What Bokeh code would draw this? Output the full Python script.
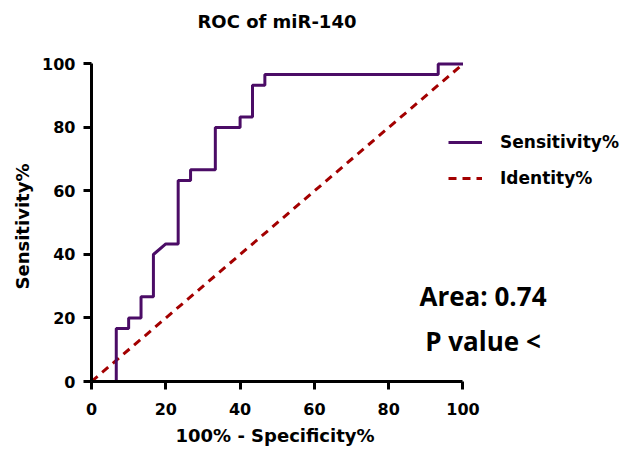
from bokeh.plotting import figure
from bokeh.models import Range1d, FixedTicker, Legend, LegendItem, Label, Title
from bokeh.embed import file_html
from bokeh.resources import INLINE

# ROC curve points (100% - Specificity%, Sensitivity%)
fpr = [0, 6.667, 6.667, 10.0, 10.0, 13.333, 13.333, 16.667, 16.667, 20.0,
       23.333, 23.333, 26.667, 26.667, 33.333, 33.333, 40.0, 40.0, 43.333,
       43.333, 46.667, 46.667, 93.333, 93.333, 100.0]
tpr = [0, 0, 16.667, 16.667, 20.0, 20.0, 26.667, 26.667, 40.0, 43.333,
       43.333, 63.333, 63.333, 66.667, 66.667, 80.0, 80.0, 83.333, 83.333,
       93.333, 93.333, 96.667, 96.667, 100.0, 100.0]
identity_x = [0, 100]
identity_y = [0, 100]
ticks = [0, 20, 40, 60, 80, 100]
axis_bounds = (0, 100)
title_text = "ROC of miR-140"
x_label = "100% - Specificity%"
y_label = "Sensitivity%"
series_names = ["Sensitivity%", "Identity%"]
area_text = "Area: 0.74"
p_text = "P value <"

PURPLE = "#4B0C66"
RED = "#A30000"
FONT = "DejaVu Sans"

# frame is wider/taller than the 0-100 axes so that the legend and the
# area text (which sit beside the axes) are not clipped by the frame
p = figure(width=626, height=453, x_range=Range1d(0, 142.4), y_range=Range1d(0, 107.4),
           output_backend="svg", toolbar_location=None,
           min_border_left=91, min_border_right=6, min_border_top=40, min_border_bottom=72,
           title=title_text)
p.outline_line_color = None
p.grid.visible = False
p.background_fill_color = "white"
p.border_fill_color = "white"

p.title.align = "left"
p.title.offset = 106
p.title.text_font = FONT
p.title.text_font_size = "18px"
p.title.text_font_style = "bold"
p.title.text_color = "black"
p.title.standoff = 17

for ax in (p.xaxis[0], p.yaxis[0]):
    ax.ticker = FixedTicker(ticks=ticks)
    ax.bounds = axis_bounds
    ax.axis_line_width = 3
    ax.axis_line_color = "black"
    ax.major_tick_line_width = 3
    ax.major_tick_line_color = "black"
    ax.major_tick_out = 8
    ax.major_tick_in = 0
    ax.minor_tick_line_color = None
    ax.major_label_text_font = FONT
    ax.major_label_text_font_size = "16px"
    ax.major_label_text_font_style = "bold"
    ax.major_label_text_color = "black"

p.xaxis.major_label_standoff = 13
p.yaxis.major_label_standoff = 8

# axis titles, positioned over the 0-100 part of each axis
xt = Title(text=x_label, align="left", offset=84, standoff=10,
           text_font=FONT, text_font_size="18px", text_font_style="bold",
           text_color="black")
yt = Title(text=y_label, align="left", offset=92, standoff=14,
           text_font=FONT, text_font_size="18px", text_font_style="bold",
           text_color="black")
p.add_layout(xt, "below")
p.add_layout(yt, "left")

r_id = p.line(identity_x, identity_y, line_color=RED, line_width=3, line_dash="8 6")
r_roc = p.line(fpr, tpr, line_color=PURPLE, line_width=3)

legend = Legend(items=[LegendItem(label=series_names[0], renderers=[r_roc]),
                       LegendItem(label=series_names[1], renderers=[r_id])],
                location=(357, 193), glyph_width=34, glyph_height=20, label_height=20,
                label_standoff=18, spacing=16, padding=0, margin=0,
                border_line_alpha=0, background_fill_alpha=0,
                label_text_font=FONT, label_text_font_size="17px",
                label_text_font_style="bold", label_text_color="black")
p.add_layout(legend)

p.add_layout(Label(x=391.5, y=86, x_units="screen", y_units="screen", text=area_text,
                   text_align="center", text_baseline="alphabetic",
                   text_font="Open Sans", text_font_size="26px", text_font_style="bold",
                   text_color="black"))
p.add_layout(Label(x=391.5, y=41, x_units="screen", y_units="screen", text=p_text,
                   text_align="center", text_baseline="alphabetic",
                   text_font="Open Sans", text_font_size="26px", text_font_style="bold",
                   text_color="black"))

open("out.html", "w").write(file_html(p, INLINE))
